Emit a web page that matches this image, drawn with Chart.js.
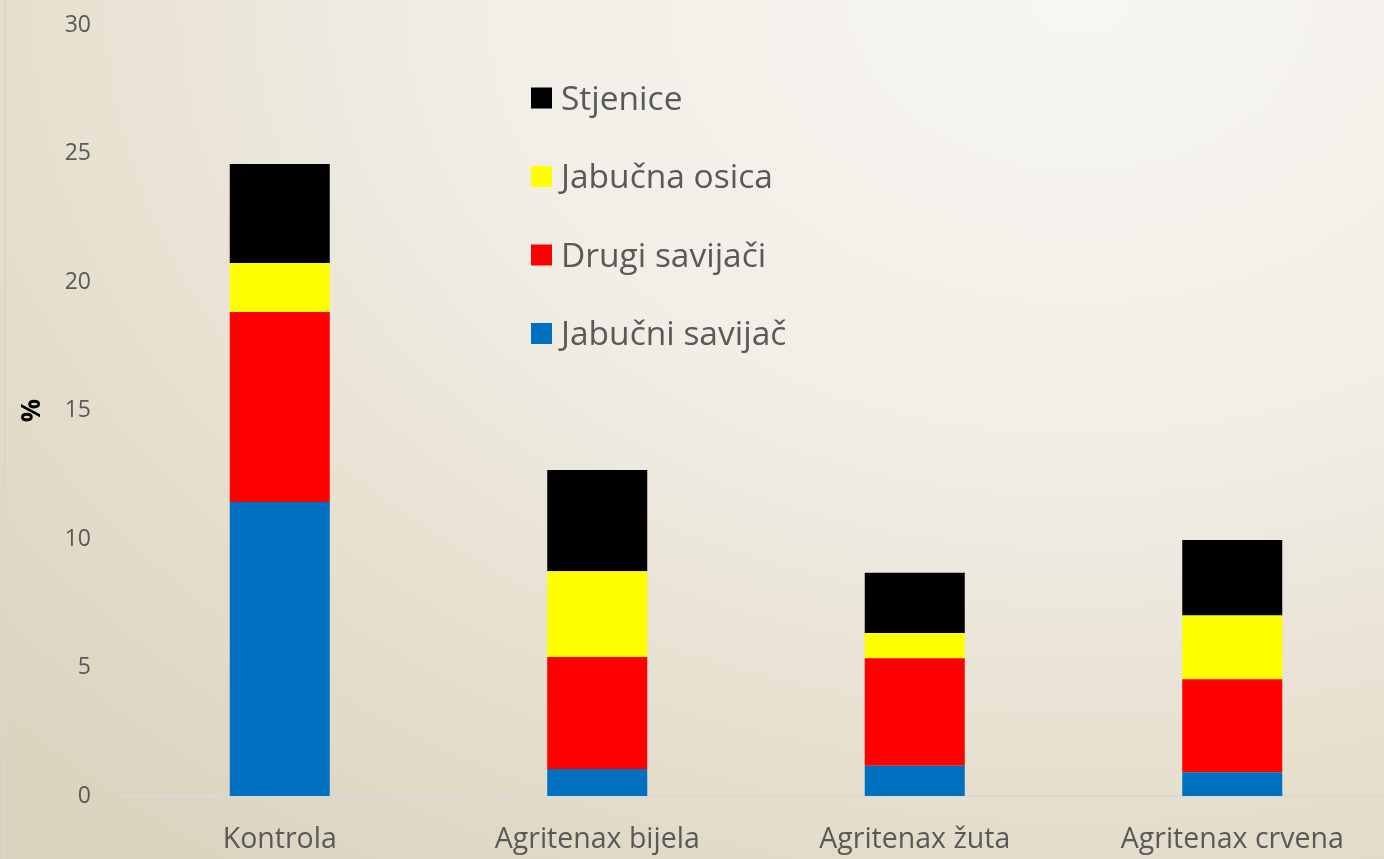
<!DOCTYPE html>
<html>
<head>
<meta charset="utf-8">
<script src="https://cdn.jsdelivr.net/npm/chart.js@4"></script>
<style>
  html, body { margin: 0; padding: 0; overflow: hidden; }
  body {
    width: 1384px; height: 859px; position: relative;
    background: radial-gradient(ellipse 110% 130% at 78% 0%, #f8f6f2 0%, #f1eee6 40%, #e4ddcb 75%, #dad2bd 100%);
  }
  .edge { position: absolute; left: 4px; top: 0; width: 2px; height: 859px; background: #d6d6d2; }
  canvas { position: absolute; left: 0; top: 0; }
</style>
</head>
<body>
<div class="edge"></div>
<canvas id="chart" width="1391" height="859"></canvas>
<script>
// ===== Data =====
const categories = ['Kontrola', 'Agritenax bijela', 'Agritenax žuta', 'Agritenax crvena'];
const jabucniSavijac = [11.44, 1.05, 1.18, 0.92];
const drugiSavijaci = [7.39, 4.36, 4.18, 3.62];
const jabucnaOsica = [1.91, 3.34, 0.98, 2.48];
const stjenice = [3.85, 3.93, 2.35, 2.94];
const yTicks = [0, 5, 10, 15, 20, 25, 30];

const textColor = '#595959';
const fontFamily = '"Open Sans", "DejaVu Sans", sans-serif';

// ===== Legend drawn inside the plot, top series first =====
const insideLegend = {
  id: 'insideLegend',
  afterDraw(chart) {
    const ctx = chart.ctx;
    const x = 531, y0 = 98, step = 78.5, box = 21;
    const sets = chart.data.datasets.slice().reverse();
    ctx.save();
    ctx.font = '33.5px ' + fontFamily;
    ctx.textBaseline = 'middle';
    ctx.textAlign = 'left';
    sets.forEach((ds, i) => {
      const y = y0 + i * step;
      ctx.fillStyle = ds.backgroundColor;
      ctx.fillRect(x, y - box / 2, box, box);
      ctx.fillStyle = textColor;
      ctx.fillText(ds.label, x + 30, y + 2);
    });
    ctx.restore();
  }
};

const ctx = document.getElementById('chart').getContext('2d');
new Chart(ctx, {
  type: 'bar',
  data: {
    labels: categories,
    datasets: [
      { label: 'Jabučni savijač', data: jabucniSavijac, backgroundColor: '#0070C0' },
      { label: 'Drugi savijači', data: drugiSavijaci, backgroundColor: '#FF0000' },
      { label: 'Jabučna osica', data: jabucnaOsica, backgroundColor: '#FFFF00' },
      { label: 'Stjenice', data: stjenice, backgroundColor: '#000000' }
    ]
  },
  options: {
    responsive: false,
    animation: false,
    layout: { padding: { top: 25, right: 0, bottom: 0, left: 0 } },
    datasets: {
      bar: { categoryPercentage: 1, barPercentage: 0.315, borderWidth: 0 }
    },
    scales: {
      x: {
        stacked: true,
        grid: { display: false, drawTicks: false },
        border: { display: true, color: '#d9d9d9', width: 2 },
        ticks: {
          color: textColor,
          padding: 27,
          maxRotation: 0,
          font: { family: fontFamily, size: 28.5 }
        },
        afterFit: axis => { axis.height = 63; }
      },
      y: {
        stacked: true,
        min: 0,
        max: 30,
        afterBuildTicks: axis => { axis.ticks = yTicks.map(v => ({ value: v })); },
        grid: { display: false, drawTicks: false },
        border: { display: false },
        ticks: {
          color: textColor,
          padding: 30,
          font: { family: fontFamily, size: 23 }
        },
        title: {
          display: true,
          text: '%',
          color: '#000000',
          padding: { top: 17, bottom: 0 },
          font: { family: fontFamily, size: 26, weight: 'bold' }
        },
        // tick padding would otherwise push the plot top down
        afterFit: axis => {
          axis.width = 121;
          axis.paddingTop = 0;
          axis.paddingBottom = 0;
        }
      }
    },
    plugins: {
      legend: { display: false },
      tooltip: { enabled: false }
    }
  },
  plugins: [insideLegend]
});
</script>
</body>
</html>
